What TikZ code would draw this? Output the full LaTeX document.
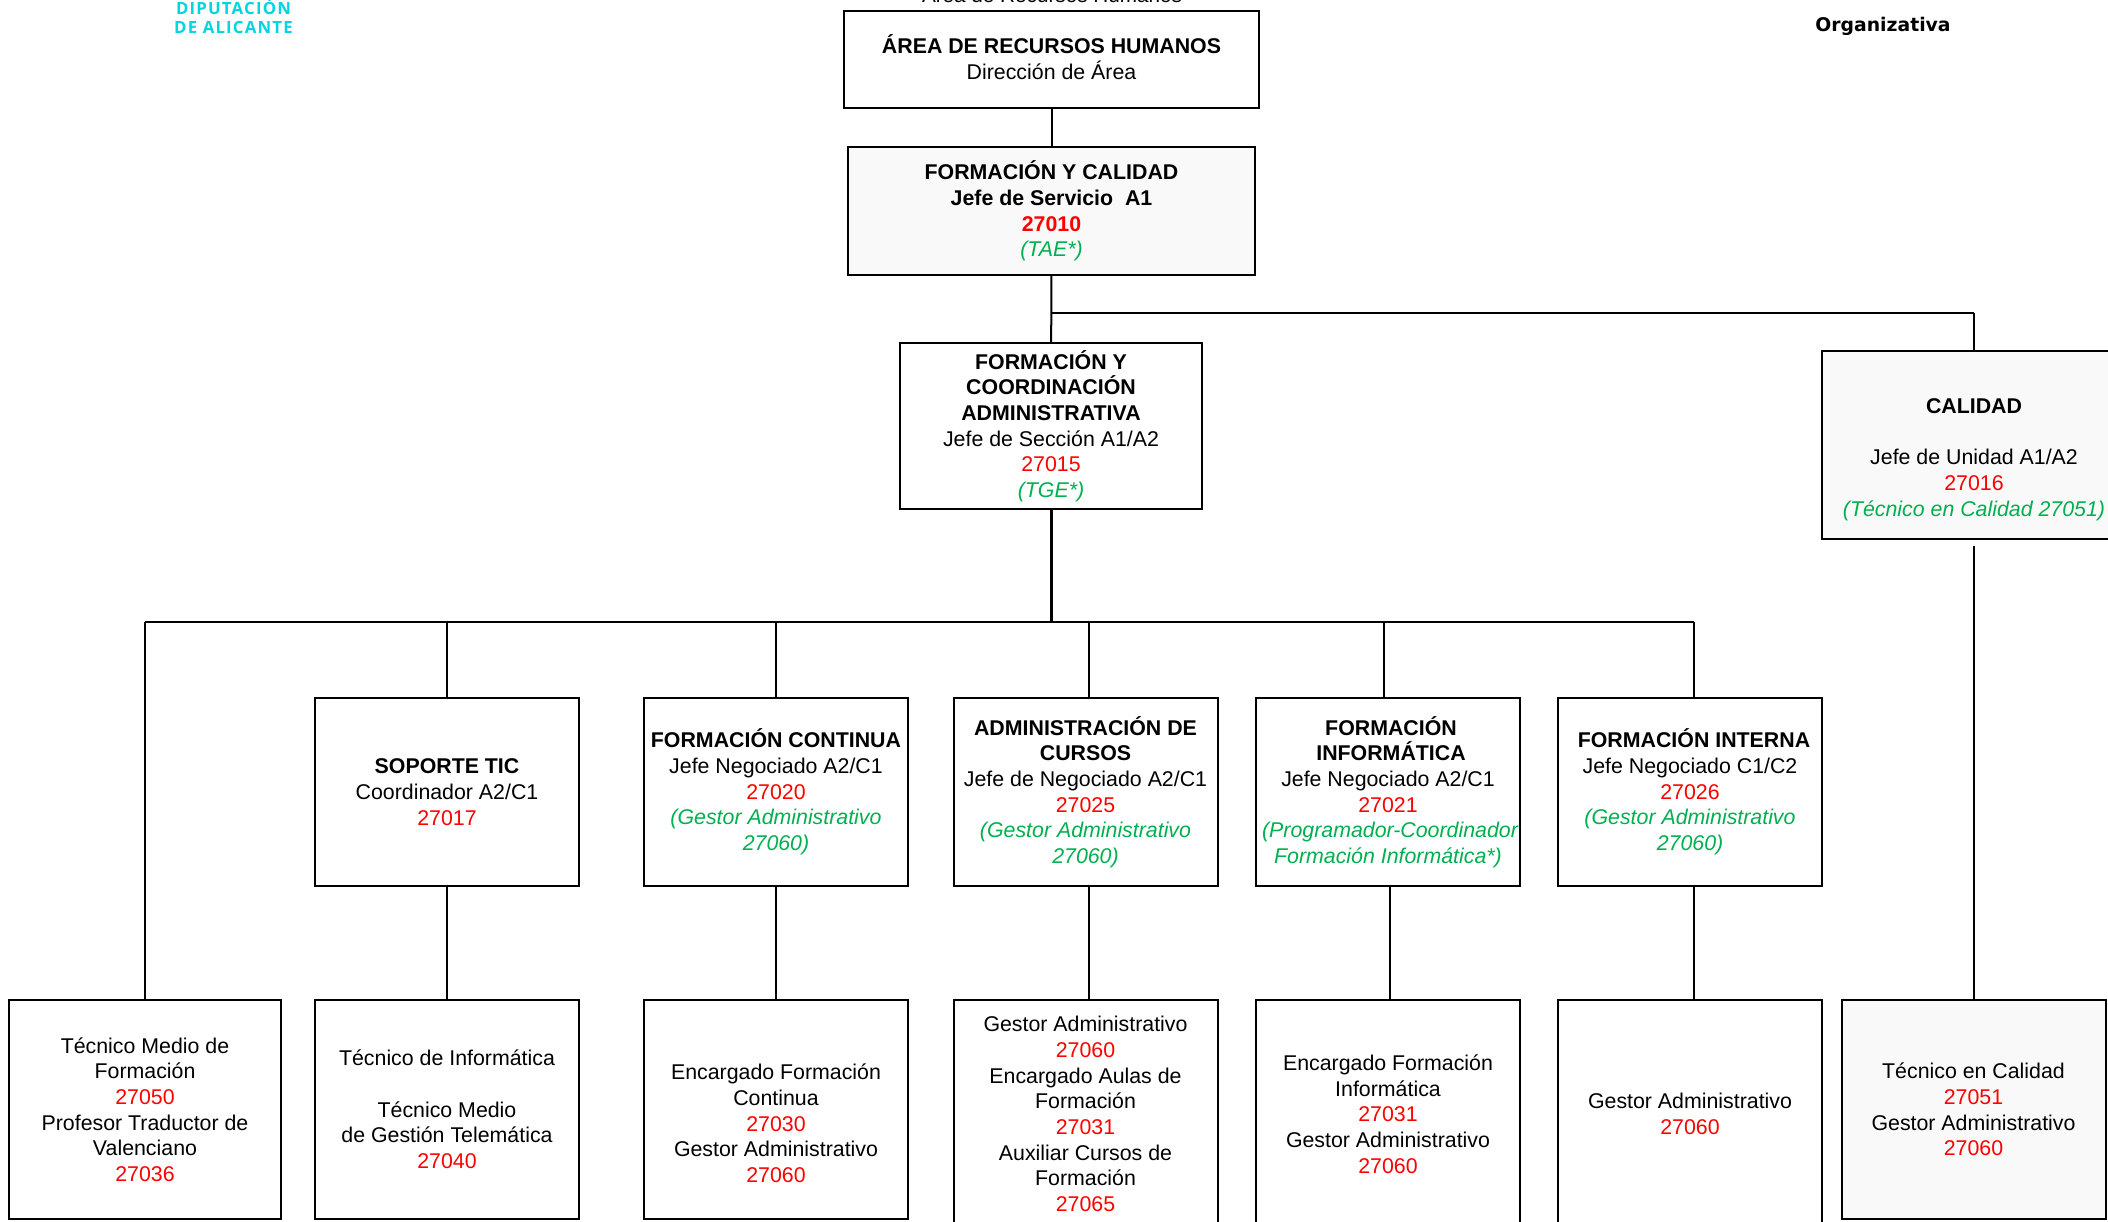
\documentclass[tikz,border=0pt]{standalone}
\usepackage{fontspec}
\setmainfont{Liberation Sans}
\newfontfamily\logofont[LetterSpace=7]{Open Sans}
\newfontfamily\pagefont{DejaVu Sans}
\usetikzlibrary{calc, positioning}

\definecolor{codigo}{RGB}{255,0,0}
\definecolor{puesto}{RGB}{0,176,80}
\definecolor{logo}{RGB}{0,214,224}
\definecolor{gris}{RGB}{249,249,249}

\newcommand{\cod}[1]{\textcolor{codigo}{#1}}
\newcommand{\pue}[1]{\textcolor{puesto}{\itshape #1}}

\begin{document}
\begin{tikzpicture}[x=0.5pt, y=-0.5pt, font=\fontsize{10.67}{12.85}\selectfont]
	\tikzstyle{caja} = [draw=black, line width=1pt, align=center, inner sep=0pt, font=\fontsize{10.67}{12.85}\selectfont]
	\tikzstyle{cajagris} = [caja, fill=gris]
	\tikzstyle{invis} = [draw=none, inner sep=0pt, align=center]
	\tikzstyle{linea} = [draw=black, line width=1pt]
	\tikzstyle{ancho} = [minimum width=132pt]

	\useasboundingbox (0, 0) rectangle (2108, 1221);

	\node[invis, anchor=base]	at (1052, 2.5)	(titulo)	{\fontsize{10.35}{12}\selectfont Área de Recursos Humanos};
	\node[invis, anchor=base]	at (1883, 31)	(organ)	{\pagefont\fontsize{9.4}{11}\selectfont\bfseries Organizativa};
	\node[invis, anchor=base]	at (233.5, 14)	(dipu)	{\logofont\fontsize{8.4}{10}\selectfont\bfseries\color{logo} DIPUTACIÓN};
	\node[invis, anchor=base]	at (233.5, 33)	(alic)	{\logofont\fontsize{8.4}{10}\selectfont\bfseries\color{logo} DE ALICANTE};

	\node[caja, minimum width=207.5pt, minimum height=48.5pt]		at (1051.5, 59.5)	(area)	{\textbf{ÁREA DE RECURSOS HUMANOS}\\Dirección de Área\rule[-2.7pt]{0pt}{2.7pt}};
	\node[cajagris, minimum width=203.5pt, minimum height=64pt]	at (1051.5, 211)	(forcal)	{\textbf{FORMACIÓN Y CALIDAD}\\\textbf{Jefe de Servicio\ \ A1}\\\textbf{\cod{27010}}\\\pue{(TAE*)}};
	\node[caja, minimum width=151pt, minimum height=83pt]			at (1051, 426)		(coord)	{\textbf{FORMACIÓN Y}\\\textbf{COORDINACIÓN}\\\textbf{ADMINISTRATIVA}\\Jefe de Sección A1/A2\\\cod{27015}\\\pue{(TGE*)}};
	\node[cajagris, minimum width=152pt, minimum height=94pt]		at (1974, 445)		(calidad)	{\strut\\\textbf{CALIDAD}\\\mbox{}\\Jefe de Unidad A1/A2\\\cod{27016}\\\pue{(Técnico en Calidad 27051)}};

	\node[caja, ancho, minimum height=94pt]	at (447, 792)		(tic)		{\textbf{SOPORTE TIC}\\Coordinador A2/C1\\\cod{27017}};
	\node[caja, ancho, minimum height=94pt]	at (776, 792)		(continua)	{\textbf{FORMACIÓN CONTINUA}\\Jefe Negociado A2/C1\\\cod{27020}\\\pue{(Gestor Administrativo}\\\pue{27060)}};
	\node[caja, ancho, minimum height=94pt]	at (1085.5, 792)	(admin)	{\textbf{ADMINISTRACIÓN DE}\\\textbf{CURSOS}\\Jefe de Negociado A2/C1\\\cod{27025}\\\pue{(Gestor Administrativo}\\\pue{27060)}};
	\node[caja, ancho, minimum height=94pt]	at (1388, 792)		(informa)	{\hspace*{3pt}\textbf{FORMACIÓN}\\\hspace*{3pt}\textbf{INFORMÁTICA}\\Jefe Negociado A2/C1\\\cod{27021}\\\hspace*{2pt}\pue{(Programador-Coordinador}\\\pue{Formación Informática*)}};
	\node[caja, ancho, minimum height=94pt]	at (1690, 792)		(interna)	{\hspace*{4pt}\textbf{FORMACIÓN INTERNA}\\Jefe Negociado C1/C2\\\cod{27026}\\\pue{(Gestor Administrativo}\\\pue{27060)}};

	\node[caja, minimum width=136pt, minimum height=109.5pt]	at (145, 1109.5)	(tecnico)	{Técnico Medio de\\Formación\\\cod{27050}\\Profesor Traductor de\\Valenciano\\\cod{27036}};
	\node[caja, ancho, minimum height=109.5pt]	at (447, 1109.5)	(tichijo)	{Técnico de Informática\\\mbox{}\\Técnico Medio\\de Gestión Telemática\\\cod{27040}};
	\node[caja, ancho, minimum height=109.5pt]	at (776, 1109.5)	(conthijo)	{\strut\\Encargado Formación\\Continua\\\cod{27030}\\Gestor Administrativo\\\cod{27060}};
	\node[caja, ancho, minimum height=114pt]	at (1085.5, 1114)	(adminhijo)	{Gestor Administrativo\\\cod{27060}\\Encargado Aulas de\\Formación\\\cod{27031}\\Auxiliar Cursos de\\Formación\\\cod{27065}};
	\node[caja, ancho, minimum height=114pt]	at (1388, 1114)	(inforhijo)	{Encargado Formación\\Informática\\\cod{27031}\\Gestor Administrativo\\\cod{27060}};
	\node[caja, ancho, minimum height=114pt]	at (1690, 1114)	(interhijo)	{Gestor Administrativo\\\cod{27060}};
	\node[cajagris, ancho, minimum height=109.5pt]	at (1973.5, 1109.5)	(calihijo)	{Técnico en Calidad\\\cod{27051}\\Gestor Administrativo\\\cod{27060}};

	\coordinate (calsal)	at (1051, 313);
	\coordinate (calcodo)	at (calidad.north |- calsal);
	\coordinate (calgap)	at (1974, 546);
	\coordinate (bus)		at (1051, 622);
	\coordinate (bizq)		at (145, 622);
	\coordinate (btic)		at (447, 622);
	\coordinate (bcont)	at (776, 622);
	\coordinate (badmin)	at (1089, 622);
	\coordinate (binfo)	at (1384, 622);
	\coordinate (bder)		at (1694, 622);
	\coordinate (tinfo)	at (1390, 886);

	\path[linea]
	(area)		edge	(forcal)
	(forcal)	edge	(coord)
	(calsal)	edge	(calcodo)
	(calcodo)	edge	(calidad)
	(calgap)	edge	(calgap |- calihijo.north)
	(coord)		edge[line width=1.5pt]	(bus)
	(bizq)		edge	(bder)
	(bizq)		edge	(tecnico)
	(btic)		edge	(tic)
	(tic)		edge	(tichijo)
	(bcont)		edge	(continua)
	(continua)	edge	(conthijo)
	(badmin)	edge	(badmin |- admin.north)
	(badmin |- admin.south)	edge	(badmin |- adminhijo.north)
	(binfo)		edge	(binfo |- informa.north)
	(tinfo)		edge	(tinfo |- inforhijo.north)
	(bder)		edge	(bder |- interna.north)
	(bder |- interna.south)	edge	(bder |- interhijo.north);
\end{tikzpicture}
\end{document}
